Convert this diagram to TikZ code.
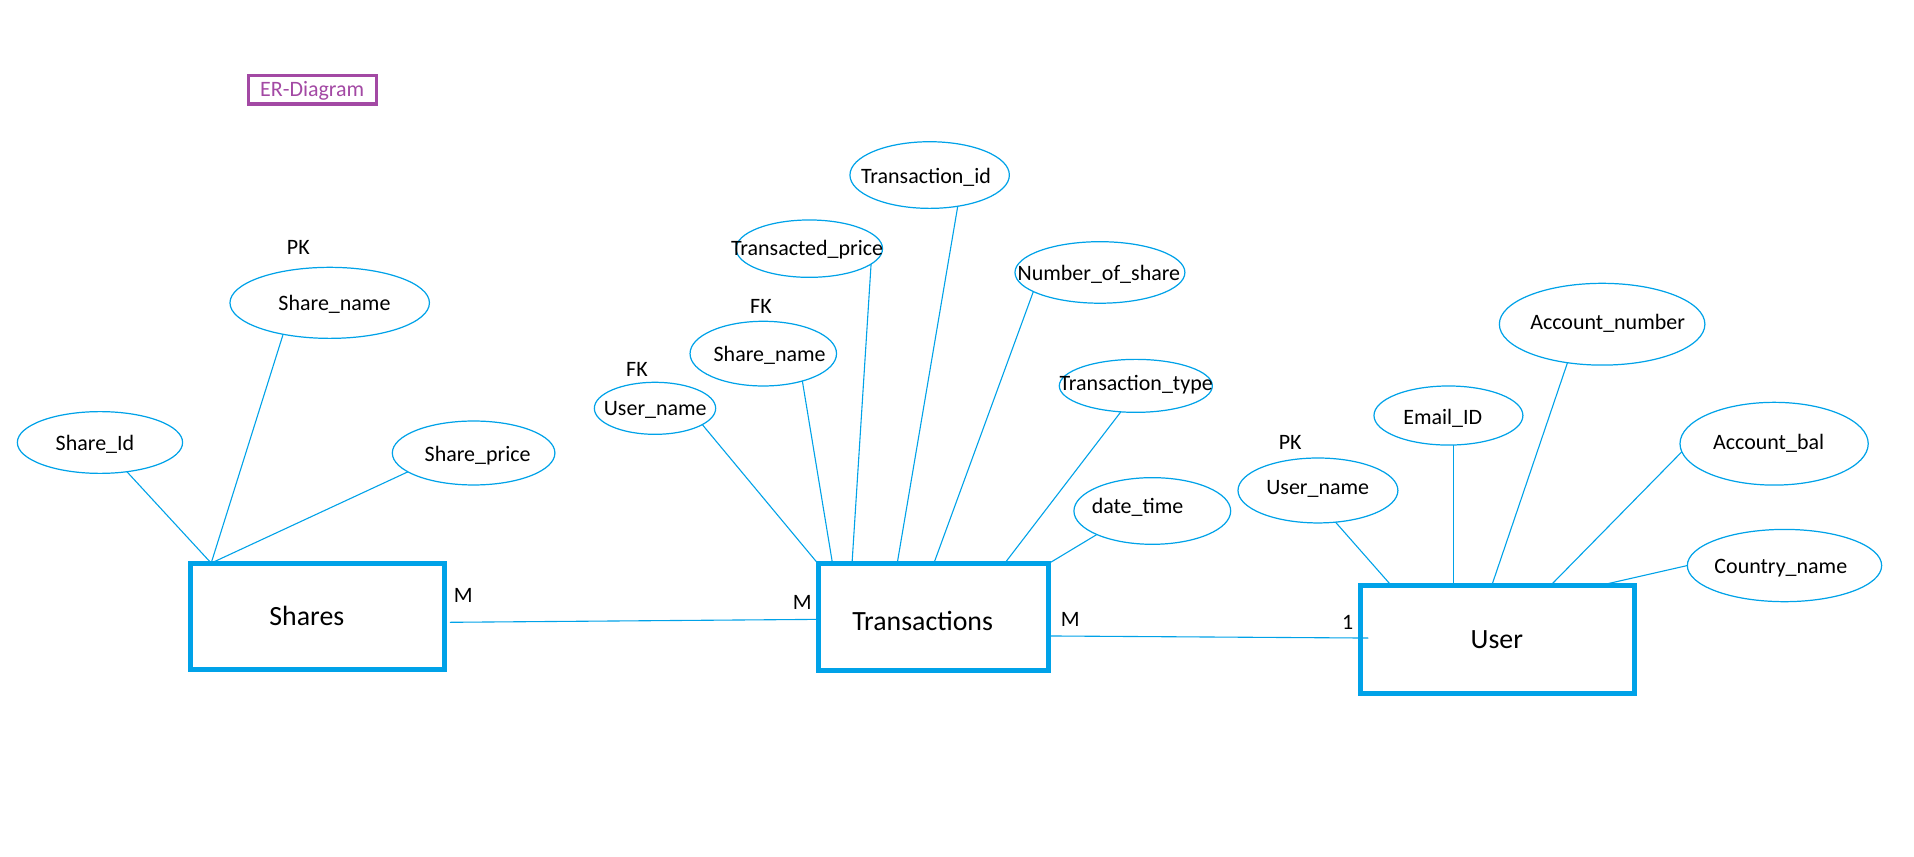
\documentclass[tikz,border=0pt]{standalone}
\usepackage{fontspec}
\setmainfont{Carlito}
\usetikzlibrary{shapes.geometric}
\definecolor{erblue}{HTML}{00A2E8}
\definecolor{erpurple}{HTML}{A349A4}
\tikzset{
  attr/.style={ellipse, draw=erblue, line width=1pt, inner sep=0pt, outer sep=0pt},
  entity/.style={rectangle, draw=erblue, line width=4.1pt, inner sep=0pt, outer sep=0pt},
  atxt/.style={font=\fontsize{18}{20}\selectfont, inner sep=0pt, text height=11.5pt, text depth=0pt},
  etxt/.style={font=\fontsize{22.8}{26}\selectfont, inner sep=0pt, text height=14.7pt, text depth=0pt},
  link/.style={draw=erblue, line width=0.9pt},
  titlebox/.style={rectangle, draw=erpurple, line width=2.7pt, inner sep=0pt, outer sep=0pt,
    text=erpurple, font=\fontsize{18}{20}\selectfont, text height=11.5pt, text depth=0pt}
}
\begin{document}
\begin{tikzpicture}[x=1pt,y=-1pt]
\useasboundingbox (0,0) rectangle (1568,702);

% title
\node[titlebox, minimum width=104.7pt, minimum height=23.2pt] (title) at (255.8,73.6) {ER-Diagram};

% ---------------- Shares ----------------
\node[attr, minimum width=135.4pt, minimum height=50.6pt] (sid) at (81.9,362.5) {};
\node[atxt] (sid-t) at (77.8,363.7) {Share\_Id};
\node[attr, minimum width=163.4pt, minimum height=58.2pt] (sname) at (270.1,248.1) {};
\node[atxt] (sname-t) at (274,248.5) {Share\_name};
\node[atxt] (sname-k) at (244.4,202.8) {PK};
\node[attr, minimum width=133.2pt, minimum height=52.4pt] (sprice) at (388,371.1) {};
\node[atxt] (sprice-t) at (391.3,372.2) {Share\_price};
\coordinate (sh) at (173,461.3);
\draw[link] (sid) -- (sh);
\draw[link] (sname.-146) -- (sh);
\draw[link] (sprice.-164) -- (sh);
\node[entity, minimum width=207.6pt, minimum height=86.9pt] (shares) at (260.1,504.8) {};
\node[etxt] (shares-t) at (251.4,505.2) {Shares};

% ---------------- Transactions ----------------
\node[attr, minimum width=99.4pt, minimum height=42.6pt] (tuser) at (536.6,334.5) {};
\node[atxt] (tuser-t) at (536.8,334.5) {User\_name};
\node[atxt] (tuser-k) at (521.8,303) {FK};
\node[attr, minimum width=120pt, minimum height=53pt] (tshare) at (625.3,289.7) {};
\node[atxt] (tshare-t) at (630.5,290.8) {Share\_name};
\node[atxt] (tshare-k) at (623.4,251.2) {FK};
\node[attr, minimum width=120pt, minimum height=47pt] (tprice) at (663,203.7) {};
\node[atxt] (tprice-t) at (661.2,203.4) {Transacted\_price};
\node[attr, minimum width=130.6pt, minimum height=54.6pt] (tid) at (761.6,143.4) {};
\node[atxt] (tid-t) at (758.6,144.2) {Transaction\_id};
\node[attr, minimum width=139.2pt, minimum height=50.4pt] (tnum) at (901.1,223.2) {};
\node[atxt] (tnum-t) at (900.2,223.9) {Number\_of\_share};
\node[attr, minimum width=125.4pt, minimum height=43.4pt] (ttype) at (930.5,316.1) {};
\node[atxt] (ttype-t) at (930.8,314) {Transaction\_type};
\node[attr, minimum width=128.4pt, minimum height=54.6pt] (tdate) at (944,418.6) {};
\node[atxt] (tdate-t) at (931.9,415.1) {date\_time};
\coordinate (t1) at (670,461.6);
\coordinate (t2) at (682,461.6);
\coordinate (t3) at (698,461.6);
\coordinate (t4) at (735,461.6);
\coordinate (t5) at (765,461.6);
\coordinate (t6) at (823,461.6);
\coordinate (t7) at (861,460.5);
\draw[link] (tuser.-19.6) -- (t1);
\draw[link] (tshare.-35.7) -- (t2);
\draw[link] (tprice.-14.9) -- (t3);
\draw[link] (tid.-48.2) -- (t4);
\draw[link] (tnum.-164) -- (t5);
\draw[link] (ttype.-120.1) -- (t6);
\draw[link] (tdate.-157.7) -- (t7);
\node[entity, minimum width=188.2pt, minimum height=88pt] (trans) at (764.6,505.6) {};
\node[etxt] (trans-t) at (755.9,509.3) {Transactions};

% ---------------- User ----------------
\node[attr, minimum width=131pt, minimum height=53.2pt] (uname) at (1079.7,401.8) {};
\node[atxt] (uname-t) at (1079.5,399) {User\_name};
\node[atxt] (uname-k) at (1057,362.5) {PK};
\node[attr, minimum width=122pt, minimum height=48.4pt] (uemail) at (1186.6,340.4) {};
\node[atxt] (uemail-t) at (1181.9,341.6) {Email\_ID};
\node[attr, minimum width=168.4pt, minimum height=67pt] (uacct) at (1312.5,265.6) {};
\node[atxt] (uacct-t) at (1317,264.3) {Account\_number};
\node[attr, minimum width=154.2pt, minimum height=67.8pt] (ubal) at (1453.4,363.5) {};
\node[atxt] (ubal-t) at (1448.9,362.4) {Account\_bal};
\node[attr, minimum width=159.2pt, minimum height=59.2pt] (ucountry) at (1461.9,463.3) {};
\node[atxt] (ucountry-t) at (1458.9,463.7) {Country\_name};
\coordinate (u1) at (1140,479.9);
\coordinate (u2) at (1190.5,479.9);
\coordinate (u3) at (1222,479.9);
\coordinate (u4) at (1270,479.9);
\coordinate (u5) at (1315.6,478.5);
\draw[link] (uname.-61.9) -- (u1);
\draw[link] (uemail.south -| u2) -- (u2);
\draw[link] (uacct.-132.1) -- (u3);
\draw[link] (ubal.-175.3) -- (u4);
\draw[link] (ucountry.west) -- (u5);
\node[entity, minimum width=224.1pt, minimum height=88.3pt] (user) at (1226.8,524) {};
\node[etxt] (user-t) at (1226.2,523.7) {User};

% ---------------- relationships ----------------
\coordinate (st-a) at (368.6,509.8);
\coordinate (st-b) at (669,507.4);
\draw[link] (st-a) -- (st-b);
\coordinate (tu-a) at (860.7,521);
\coordinate (tu-b) at (1121,522.7);
\draw[link] (tu-a) -- (tu-b);
\node[atxt] (m1) at (379.6,488.1) {M};
\node[atxt] (m2) at (657.3,493.3) {M};
\node[atxt] (m3) at (876.8,507.2) {M};
\node[atxt] (one) at (1104,509.7) {1};
\end{tikzpicture}
\end{document}
